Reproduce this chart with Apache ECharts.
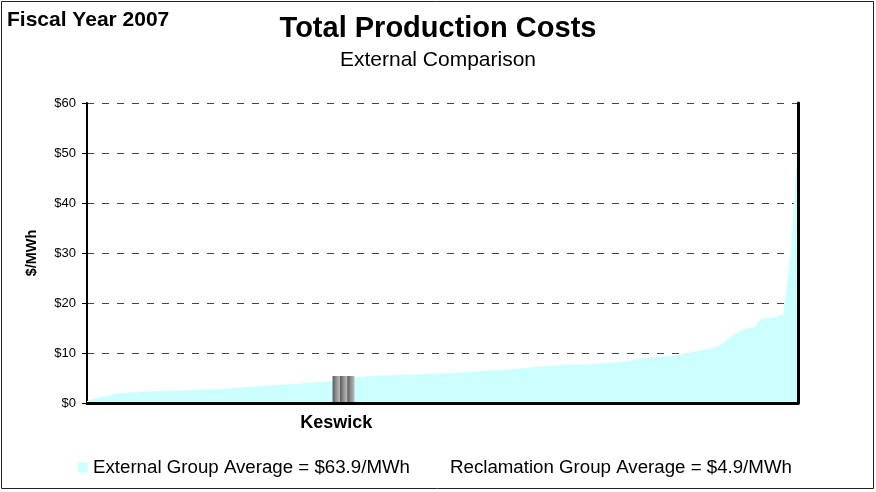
<!DOCTYPE html>
<html>
<head>
<meta charset="utf-8">
<script src="https://cdn.jsdelivr.net/npm/echarts@6/dist/echarts.min.js"></script>
<style>
html,body{margin:0;padding:0;background:#fff;}
#chart{width:876px;height:492px;}
</style>
</head>
<body>
<div id="chart"></div>
<script>
// External plants' total production cost ($/MWh), sorted ascending
const externalCosts = [
  0.4, 0.9, 1.2, 1.5, 1.9, 2.0, 2.1, 2.2, 2.3, 2.3,
  2.4, 2.4, 2.5, 2.5, 2.6, 2.6, 2.7, 2.8, 2.8, 2.9,
  3.0, 3.1, 3.2, 3.3, 3.4, 3.5, 3.6, 3.7, 3.8, 3.9,
  4.0, 4.1, 4.2, 4.3, 4.5, 4.8, 5.1, 5.2, 5.3, 5.4,
  5.5, 5.5, 5.6, 5.6, 5.7, 5.7, 5.8, 5.8, 5.9, 6.0,
  6.0, 6.1, 6.2, 6.3, 6.4, 6.5, 6.5, 6.6, 6.8, 6.9,
  7.0, 7.2, 7.3, 7.4, 7.5, 7.6, 7.6, 7.7, 7.7, 7.8,
  7.9, 8.0, 8.1, 8.3, 8.4, 8.8, 9.0, 9.1, 9.2, 9.3,
  9.4, 9.7, 10.0, 10.3, 10.6, 10.9, 11.2, 12.2, 13.4, 14.3,
  14.9, 15.2, 16.8, 17.0, 17.2, 17.8, 30.0, 52.6
];
// Keswick (Reclamation) highlighted position and value
const keswickLabel = 'Keswick';
const keswickStart = 34;
const keswickCosts = [5.4, 5.4, 5.4];
const yTickLabels = ['$0', '$10', '$20', '$30', '$40', '$50', '$60'];
const externalName = 'External Group Average = $63.9/MWh';
const reclamationName = 'Reclamation Group Average = $4.9/MWh';

const categories = externalCosts.map((_, i) => (i === keswickStart ? keswickLabel : ''));
const keswickData = externalCosts.map((_, i) => {
  const k = i - keswickStart;
  return (k >= 0 && k < keswickCosts.length) ? keswickCosts[k] : null;
});

const FONT = '"Liberation Sans", Arial, sans-serif';
const chart = echarts.init(document.getElementById('chart'), null, {renderer: 'canvas'});

const grayGrad = new echarts.graphic.LinearGradient(0, 0, 1, 0, [
  {offset: 0, color: '#5a5a5a'},
  {offset: 0.6, color: '#9a9a9a'},
  {offset: 1, color: '#bdbdbd'}
]);

chart.setOption({
  backgroundColor: '#ffffff',
  animation: false,
  textStyle: {fontFamily: FONT},
  title: [
    {text: 'Fiscal Year 2007', left: 7, top: 10, padding: 0,
     textStyle: {fontSize: 21, fontWeight: 'bold', color: '#000', fontFamily: FONT}},
    {text: 'Total Production Costs', left: 'center', top: 14, padding: 0,
     textStyle: {fontSize: 29, fontWeight: 'bold', color: '#000', fontFamily: FONT}},
    {text: 'External Comparison', left: 'center', top: 50, padding: 0,
     textStyle: {fontSize: 21, fontWeight: 'normal', color: '#000', fontFamily: FONT}}
  ],
  legend: {
    left: 78, top: 458, padding: 0,
    itemWidth: 10, itemHeight: 10, itemGap: 25,
    textStyle: {fontSize: 18.7, color: '#000', fontFamily: FONT},
    data: [
      {name: externalName, icon: 'rect'},
      {name: reclamationName, icon: 'rect', itemStyle: {opacity: 0}}
    ]
  },
  grid: {left: 87, right: 78, top: 103, bottom: 89},
  xAxis: [
    {
      type: 'category', data: categories, boundaryGap: false, z: 5,
      axisLine: {lineStyle: {color: '#4d5b5b', width: 2}},
      axisTick: {show: false},
      axisLabel: {interval: 0, fontSize: 18, fontWeight: 'bold', color: '#000', margin: 11, fontFamily: FONT},
      splitLine: {show: false}
    },
    {
      type: 'category', data: categories, boundaryGap: false, position: 'top', z: 5,
      axisLine: {lineStyle: {color: '#000', width: 3}},
      axisTick: {show: false}, axisLabel: {show: false}, splitLine: {show: false}
    }
  ],
  yAxis: [
    {
      type: 'value', min: 0, max: 60, interval: 10,
      name: '$/MWh', nameLocation: 'middle', nameGap: 48,
      nameTextStyle: {fontSize: 14.5, fontWeight: 'bold', color: '#000', fontFamily: FONT},
      axisLine: {show: true, lineStyle: {color: '#000', width: 2}},
      axisTick: {show: true, length: 5, lineStyle: {color: '#000'}},
      axisLabel: {formatter: v => yTickLabels[Math.round(v / 10)], fontSize: 13, color: '#000', margin: 11, fontFamily: FONT},
      splitLine: {show: true, lineStyle: {type: [7, 8], color: '#444', width: 1}}
    },
    {
      type: 'value', min: 0, max: 60, interval: 10, position: 'right', z: 5,
      axisLine: {show: true, lineStyle: {color: '#000', width: 3}},
      axisTick: {show: false}, axisLabel: {show: false}, splitLine: {show: false}
    }
  ],
  series: [
    {
      name: externalName, type: 'line', data: externalCosts,
      symbol: 'none', showSymbol: false, silent: true, z: 2,
      lineStyle: {width: 0, color: '#ccffff'},
      itemStyle: {color: '#ccffff'},
      areaStyle: {color: '#ccffff', opacity: 1}
    },
    {
      name: reclamationName, type: 'bar', data: keswickData,
      barWidth: '100%', z: 3,
      itemStyle: {color: grayGrad}
    }
  ],
  graphic: [
    {type: 'rect', z: 100, silent: true,
     shape: {x: 1.5, y: 1.5, width: 872, height: 487},
     style: {fill: 'none', stroke: '#222', lineWidth: 1}}
  ]
});
</script>
</body>
</html>
